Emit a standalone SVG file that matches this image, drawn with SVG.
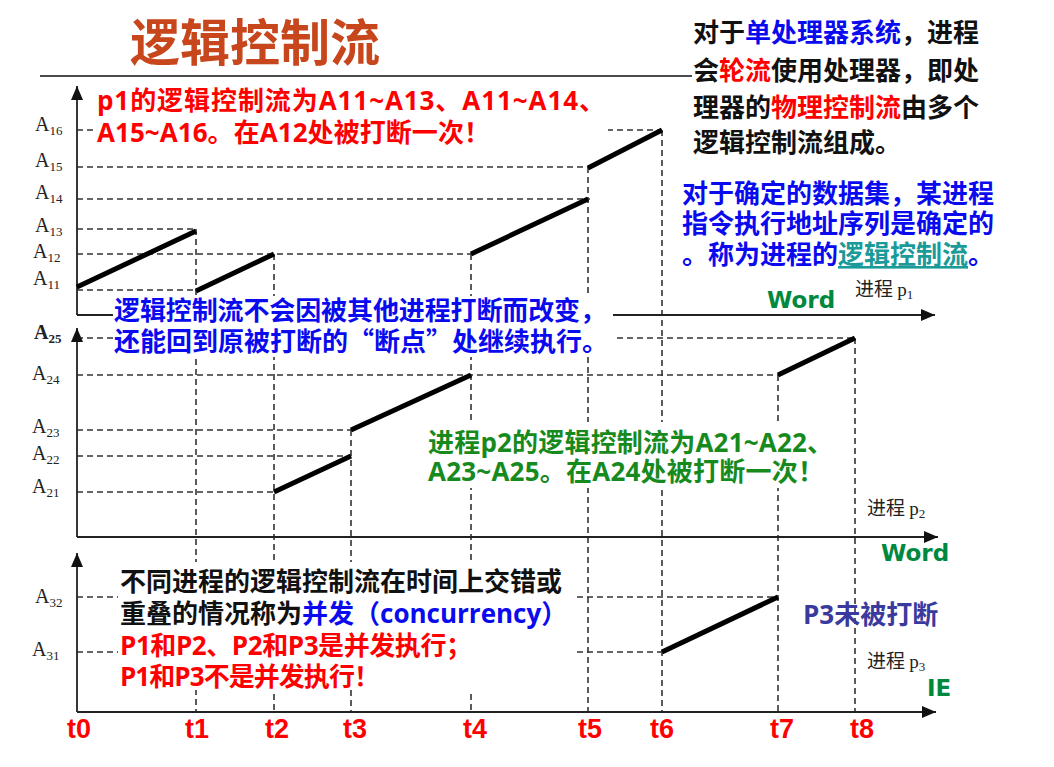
<svg xmlns="http://www.w3.org/2000/svg" width="1054" height="767" viewBox="0 0 1054 767">
<defs>
<marker id="arr" viewBox="0 0 14 12" markerWidth="14" markerHeight="12" refX="14" refY="6" orient="auto" markerUnits="userSpaceOnUse"><path d="M0,0 L14,6 L0,12 z" fill="#111"/></marker>
<style>
.ax{stroke:#222;stroke-width:1.8;fill:none}
.dash{stroke:#333;stroke-width:1.6;stroke-dasharray:6 4;fill:none}
.flow{stroke:#000;stroke-width:5;fill:none}
.box{fill:#fff}
.cn{font-family:'Open Sans','Noto Sans CJK SC',sans-serif;font-weight:700;font-size:26px}
.cjk{font-family:'Noto Sans CJK SC',sans-serif}
.blk{fill:#111}
.red{fill:#ff0000}
.blue{fill:#0a0aee}
.grn{fill:#178a1e}
.teal{fill:#1a9a98}
.lab{font-family:'Liberation Serif',serif;font-size:20px;fill:#222}
.sub{font-size:13px}
.proc{font-family:'Noto Sans CJK SC',sans-serif;font-size:19px;fill:#222}
.pp{font-family:'Liberation Serif',serif;font-size:19px}
.ps{font-family:'Liberation Serif',serif;font-size:13px}
.word{font-family:'DejaVu Sans',sans-serif;font-weight:700;font-size:23px;fill:#00893e}
.t{font-family:'Liberation Sans',sans-serif;font-weight:700;font-size:27px;fill:#ff0000;text-anchor:middle}
</style>
</defs>
<rect width="1054" height="767" fill="#fff"/>

<g id="title">
<text x="130" y="61" font-family="'Noto Sans CJK SC',sans-serif" font-weight="700" font-size="50" fill="#c8461b">逻辑控制流</text>
<line x1="40" y1="76" x2="692" y2="76" stroke="#111" stroke-width="1.5"/>
</g>

<g id="connectors">
<line class="dash" x1="77" y1="130" x2="662" y2="130"/>
<line class="dash" x1="77" y1="167" x2="588" y2="167"/>
<line class="dash" x1="77" y1="199" x2="590" y2="199"/>
<line class="dash" x1="77" y1="229" x2="196" y2="229"/>
<line class="dash" x1="77" y1="254" x2="471" y2="254"/>
<line class="dash" x1="77" y1="290" x2="196" y2="290"/>
<line class="dash" x1="77" y1="338" x2="855" y2="338"/>
<line class="dash" x1="77" y1="375" x2="778" y2="375"/>
<line class="dash" x1="77" y1="430" x2="351" y2="430"/>
<line class="dash" x1="77" y1="456" x2="351" y2="456"/>
<line class="dash" x1="77" y1="492" x2="274" y2="492"/>
<line class="dash" x1="77" y1="597" x2="778" y2="597"/>
<line class="dash" x1="77" y1="652" x2="662" y2="652"/>
<line class="dash" x1="196" y1="229" x2="196" y2="712"/>
<line class="dash" x1="274" y1="254" x2="274" y2="712"/>
<line class="dash" x1="351" y1="430" x2="351" y2="712"/>
<line class="dash" x1="471" y1="254" x2="471" y2="712"/>
<line class="dash" x1="588" y1="167" x2="588" y2="712"/>
<line class="dash" x1="662" y1="130" x2="662" y2="712"/>
<line class="dash" x1="778" y1="375" x2="778" y2="712"/>
<line class="dash" x1="855" y1="338" x2="855" y2="712"/>
<line class="ax" x1="77" y1="315" x2="77" y2="86" marker-end="url(#arr)"/>
<line class="ax" x1="77" y1="315" x2="935" y2="315" marker-end="url(#arr)"/>
<line class="ax" x1="77" y1="537" x2="77" y2="328" marker-end="url(#arr)"/>
<line class="ax" x1="77" y1="537" x2="938" y2="537" marker-end="url(#arr)"/>
<line class="ax" x1="77" y1="712" x2="77" y2="553" marker-end="url(#arr)"/>
<line class="ax" x1="77" y1="712" x2="936" y2="712" marker-end="url(#arr)"/>
<line class="flow" x1="77" y1="287" x2="196" y2="231"/>
<line class="flow" x1="196" y1="291" x2="274" y2="254"/>
<line class="flow" x1="471" y1="254" x2="588" y2="199"/>
<line class="flow" x1="588" y1="168" x2="662" y2="130"/>
<line class="flow" x1="274" y1="492" x2="351" y2="456"/>
<line class="flow" x1="351" y1="430" x2="471" y2="375"/>
<line class="flow" x1="778" y1="375" x2="855" y2="338"/>
<line class="flow" x1="662" y1="652" x2="778" y2="597"/>
</g>

<g id="ylabels">
<text class="lab" x="35" y="131">A<tspan class="sub" dy="4">16</tspan></text>
<text class="lab" x="35" y="167">A<tspan class="sub" dy="4">15</tspan></text>
<text class="lab" x="35" y="199">A<tspan class="sub" dy="4">14</tspan></text>
<text class="lab" x="35" y="232">A<tspan class="sub" dy="4">13</tspan></text>
<text class="lab" x="33" y="258">A<tspan class="sub" dy="4">12</tspan></text>
<text class="lab" x="33" y="285">A<tspan class="sub" dy="4">11</tspan></text>
<text class="lab" x="34" y="339" font-weight="700" fill="#000">A<tspan class="sub" dy="4">25</tspan></text>
<text class="lab" x="32" y="380">A<tspan class="sub" dy="4">24</tspan></text>
<text class="lab" x="32" y="433">A<tspan class="sub" dy="4">23</tspan></text>
<text class="lab" x="32" y="460">A<tspan class="sub" dy="4">22</tspan></text>
<text class="lab" x="32" y="493">A<tspan class="sub" dy="4">21</tspan></text>
<text class="lab" x="35" y="603">A<tspan class="sub" dy="4">32</tspan></text>
<text class="lab" x="32" y="656">A<tspan class="sub" dy="4">31</tspan></text>
</g>

<g id="time-labels">
<text class="t" x="79" y="738">t0</text>
<text class="t" x="197" y="738">t1</text>
<text class="t" x="277" y="738">t2</text>
<text class="t" x="355" y="738">t3</text>
<text class="t" x="475" y="738">t4</text>
<text class="t" x="590" y="738">t5</text>
<text class="t" x="662" y="738">t6</text>
<text class="t" x="782" y="738">t7</text>
<text class="t" x="862" y="738">t8</text>
</g>

<g id="axis-names">
<text class="proc" x="855" y="296">进程 <tspan class="pp">p</tspan><tspan class="ps" dy="3">1</tspan></text>
<text class="proc" x="867" y="515">进程 <tspan class="pp">p</tspan><tspan class="ps" dy="3">2</tspan></text>
<text class="proc" x="867" y="668">进程 <tspan class="pp">p</tspan><tspan class="ps" dy="3">3</tspan></text>
<text class="word" x="767" y="308">Word</text>
<text class="word" x="881" y="561">Word</text>
<text class="word" x="927" y="696">IE</text>
</g>

<g id="note-p1">
<rect class="box" x="93" y="86" width="515" height="62"/>
<text class="cn red" x="97" y="110" textLength="508" lengthAdjust="spacing">p1的逻辑控制流为A11~A13、A11~A14、</text>
<text class="cn red" x="97" y="142" textLength="393" lengthAdjust="spacing">A15~A16。在A12处被打断一次！</text>
</g>

<g id="note-resume">
<rect class="box" x="113" y="296" width="500" height="61"/>
<text class="cn blue" x="114" y="320" textLength="492" lengthAdjust="spacing">逻辑控制流不会因被其他进程打断而改变，</text>
<text class="cn blue" x="114" y="351">还能回到原被打断的<tspan class="cjk">“</tspan>断点<tspan class="cjk">”</tspan>处继续执行。</text>
</g>

<g id="note-p2">
<rect class="box" x="425" y="422" width="412" height="66"/>
<text class="cn grn" x="428" y="452" textLength="405" lengthAdjust="spacing">进程p2的逻辑控制流为A21~A22、</text>
<text class="cn grn" x="428" y="481" textLength="396" lengthAdjust="spacing">A23~A25。在A24处被打断一次！</text>
</g>

<g id="note-concurrency">
<rect class="box" x="118" y="562" width="457" height="128"/>
<text class="cn blk" x="120" y="591">不同进程的逻辑控制流在时间上交错或</text>
<text class="cn blk" x="120" y="623">重叠的情况称为<tspan class="blue">并发（concurrency）</tspan></text>
<text class="cn red" x="120" y="655" textLength="352" lengthAdjust="spacing">P1和P2、P2和P3是并发执行；</text>
<text class="cn red" x="120" y="686" textLength="260" lengthAdjust="spacing">P1和P3不是并发执行！</text>
</g>

<g id="note-p3">
<text class="cn" x="803" y="624" fill="#3a3a9e">P3未被打断</text>
</g>

<g id="note-uniprocessor">
<text class="cn blk" x="693" y="42">对于<tspan class="blue">单处理器系统</tspan>，进程</text>
<text class="cn blk" x="693" y="80">会<tspan class="red">轮流</tspan>使用处理器，即处</text>
<text class="cn blk" x="693" y="117">理器的<tspan class="red">物理控制流</tspan>由多个</text>
<text class="cn blk" x="693" y="152">逻辑控制流组成。</text>
</g>

<g id="note-definition">
<text class="cn blue" x="682" y="203">对于确定的数据集，某进程</text>
<text class="cn blue" x="682" y="233">指令执行地址序列是确定的</text>
<text class="cn blue" x="682" y="264">。称为进程的<tspan class="teal" text-decoration="underline">逻辑控制流</tspan>。</text>
</g>
</svg>
